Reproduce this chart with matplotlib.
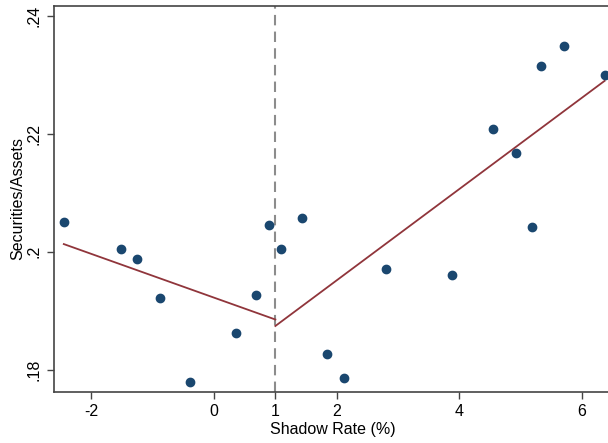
import matplotlib
matplotlib.use("Agg")
import matplotlib.pyplot as plt

# binned means of securities/assets by shadow rate
shadow_rate = [-2.45, -1.51, -1.25, -0.88, -0.39, 0.35, 0.69, 0.90, 1.10,
               1.44, 1.84, 2.12, 2.81, 3.88, 4.55, 4.92, 5.19, 5.34, 5.71, 6.37]
sec_assets = [0.2050, 0.2004, 0.1987, 0.1921, 0.1779, 0.1862, 0.1926, 0.2045, 0.2004,
              0.2058, 0.1826, 0.1786, 0.1971, 0.1961, 0.2209, 0.2168, 0.2042, 0.2316, 0.2349, 0.2300]

# linear fits on each side of the threshold
threshold = 1.0
left_fit_x = [-2.45, 1.0]
left_fit_y = [0.2013, 0.1885]
right_fit_x = [1.0, 6.37]
right_fit_y = [0.1874, 0.2290]

xticks = [-2, 0, 1, 2, 4, 6]
yticks = [0.18, 0.20, 0.22, 0.24]
ytick_labels = [".18", ".2", ".22", ".24"]

plt.rcParams["font.family"] = ["Liberation Sans", "DejaVu Sans"]

fig = plt.figure(figsize=(6.08, 4.43), dpi=100)
ax = fig.add_axes([54 / 608, 51 / 443, 558 / 608, 386 / 443])

ax.axvline(threshold, color="#8c8c8c", linestyle=(0, (5, 3)), linewidth=1.5, zorder=1)
ax.plot(left_fit_x, left_fit_y, color="#90353b", linewidth=1.3, zorder=2)
ax.plot(right_fit_x, right_fit_y, color="#90353b", linewidth=1.3, zorder=2)
ax.plot(shadow_rate, sec_assets, "o", color="#1a476f", markersize=6, zorder=3)

ax.set_xlim(-2.61, 6.49)
ax.set_ylim(0.1762, 0.2417)
ax.set_xticks(xticks)
ax.set_xticklabels([str(t) for t in xticks])
ax.set_yticks(yticks)
ax.set_yticklabels(ytick_labels, rotation=90, va="center")

ax.set_xlabel("Shadow Rate (%)", fontsize=11.5, labelpad=2)
ax.set_ylabel("Securities/Assets", fontsize=11.5, labelpad=1)
ax.tick_params(axis="both", labelsize=11.5, length=5, width=1, color="#444444", pad=4)

for side in ax.spines.values():
    side.set_color("#444444")
    side.set_linewidth(1.2)

fig.savefig("out.png", dpi=100)
